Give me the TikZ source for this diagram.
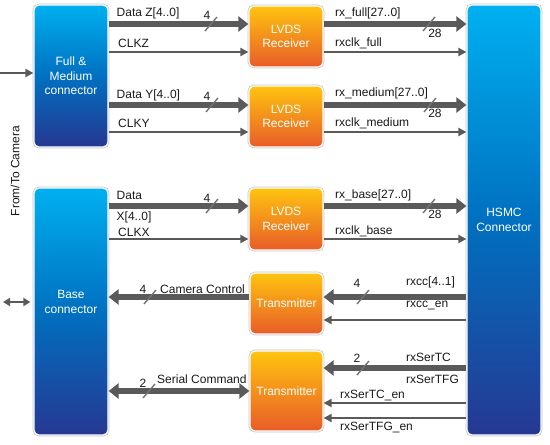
\documentclass[tikz,border=0pt]{standalone}
\usepackage{fontspec}
\setmainfont{Liberation Sans}
\usetikzlibrary{arrows.meta}
\definecolor{btop}{RGB}{0,176,240}
\definecolor{bmid}{RGB}{0,112,192}
\definecolor{bbot}{RGB}{38,56,146}
\definecolor{otop}{RGB}{255,196,15}
\definecolor{obot}{RGB}{232,92,40}
\definecolor{arrgray}{RGB}{90,90,90}
\definecolor{txtc}{RGB}{25,25,25}
\tikzset{
  blk/.style={rounded corners=5pt, draw=white, line width=1.2pt,
    preaction={draw=black!22, line width=2.8pt},
    minimum width=74pt, inner sep=0pt, text=white, align=center,
    font=\fontsize{12}{14.5}\selectfont},
  bluebox/.style={blk, top color=btop, bottom color=bbot, middle color=bmid},
  orbox/.style={blk, top color=otop, bottom color=obot},
  lbl/.style={inner sep=0pt, text=txtc, font=\fontsize{12}{14.5}\selectfont},
  thk/.style={draw=arrgray, line width=6pt, -{Triangle[length=10pt,width=15pt]}},
  thn/.style={draw=arrgray, line width=2pt, -{Triangle[length=8pt,width=8pt]}},
  slashln/.style={draw=arrgray!85, line width=1.4pt},
}
\begin{document}
\begin{tikzpicture}[x=1pt,y=-1pt]
\useasboundingbox (0,0) rectangle (550,445);
% boxes
\node[bluebox, minimum height=142pt] (fm) at (71,76) {Full \&\\Medium\\connector};
\node[bluebox, minimum height=247pt] (base) at (71,311.5) {};
\node[lbl, text=white, align=center] (baselbl) at (71,302) {Base\\connector};
\node[bluebox, minimum height=430pt] (hsmc) at (504,220) {HSMC\\Connector};
\node[orbox, minimum height=61pt] (lv1) at (286,36.5) {LVDS\\Receiver};
\node[orbox, minimum height=61pt] (lv2) at (286,116.5) {LVDS\\Receiver};
\node[orbox, minimum height=62pt] (lv3) at (286,219) {LVDS\\Receiver};
\node[orbox, minimum height=61pt, minimum width=73pt] (tx1) at (286.5,303.5) {Transmitter};
\node[orbox, minimum height=80pt, minimum width=73pt] (tx2) at (286.5,391) {Transmitter};
% left side
\node[lbl, rotate=90] (ftc) at (15,171) {From/To Camera};
\coordinate (inL) at (0,73);
\draw[thn] (inL) -- (fm.west |- inL);
\coordinate (camL) at (3,302);
\draw[draw=arrgray, line width=2pt, {Triangle[length=7pt,width=8pt]}-{Triangle[length=7pt,width=8pt]}, shorten >=3pt] (camL) -- (base.west |- camL);
% connector -> LVDS
\draw[thk] (fm.east |- 0,24) -- (lv1.west |- 0,24);
\draw[thn] (fm.east |- 0,52) -- (lv1.west |- 0,52);
\draw[thk] (fm.east |- 0,105) -- (lv2.west |- 0,105);
\draw[thn] (fm.east |- 0,132) -- (lv2.west |- 0,132);
\draw[thk] (base.east |- 0,206) -- (lv3.west |- 0,206);
\draw[thn] (base.east |- 0,239) -- (lv3.west |- 0,239);
% LVDS -> HSMC
\draw[thk] (lv1.east |- 0,24) -- (hsmc.west |- 0,24);
\draw[thn] (lv1.east |- 0,52) -- (hsmc.west |- 0,52);
\draw[thk] (lv2.east |- 0,105) -- (hsmc.west |- 0,105);
\draw[thn] (lv2.east |- 0,132) -- (hsmc.west |- 0,132);
\draw[thk] (lv3.east |- 0,206) -- (hsmc.west |- 0,206);
\draw[thn] (lv3.east |- 0,239) -- (hsmc.west |- 0,239);
% transmitters
\draw[thk] (tx1.west |- 0,297) -- (base.east |- 0,297);
\draw[thk] (hsmc.west |- 0,297) -- (tx1.east |- 0,297);
\draw[thn] (hsmc.west |- 0,320) -- (tx1.east |- 0,320);
\draw[draw=arrgray, line width=6pt, {Triangle[length=10pt,width=15pt]}-{Triangle[length=10pt,width=15pt]}] (base.east |- 0,391) -- (tx2.west |- 0,391);
\draw[thk] (hsmc.west |- 0,368) -- (tx2.east |- 0,368);
\draw[thn] (hsmc.west |- 0,403) -- (tx2.east |- 0,403);
\draw[thn] (hsmc.west |- 0,418) -- (tx2.east |- 0,418);
% slashes
\foreach \sx/\sy in {211/24, 212/105, 212/206, 429/24, 430/105, 429/206, 150/297, 363/297, 149/391, 363/368}
  \draw[slashln] (\sx-6,\sy+7) -- (\sx+6,\sy-7);
% left labels
\node[lbl, anchor=west] (tDZ) at (116.5,13) {Data Z[4..0]};
\node[lbl] (nDZ) at (207,15) {4};
\node[lbl, anchor=west] (tCZ) at (118,43) {CLKZ};
\node[lbl, anchor=west] (tDY) at (116.5,95) {Data Y[4..0]};
\node[lbl] (nDY) at (207,96) {4};
\node[lbl, anchor=west] (tCY) at (118,123) {CLKY};
\node[lbl, anchor=west] (tDX) at (116.5,195) {Data};
\node[lbl, anchor=west] (tDX2) at (116.5,217) {X[4..0]};
\node[lbl] (nDX) at (207,198) {4};
\node[lbl, anchor=west] (tCX) at (118,232) {CLKX};
\node[lbl] (nCC) at (143,289) {4};
\node[lbl, anchor=west] (tCC) at (160,289) {Camera Control};
\node[lbl] (nSC) at (143,383) {2};
\node[lbl, anchor=west] (tSC) at (157,379) {Serial Command};
% right labels
\node[lbl, anchor=west] (tRF) at (335,13) {rx\_full[27..0]};
\node[lbl] (nRF) at (435,33) {28};
\node[lbl, anchor=west] (tCF) at (335,43) {rxclk\_full};
\node[lbl, anchor=west] (tRM) at (335,93) {rx\_medium[27..0]};
\node[lbl] (nRM) at (435,113) {28};
\node[lbl, anchor=west] (tCM) at (335,123) {rxclk\_medium};
\node[lbl, anchor=west] (tRB) at (335,195) {rx\_base[27..0]};
\node[lbl] (nRB) at (435,214) {28};
\node[lbl, anchor=west] (tCB) at (335,231) {rxclk\_base};
\node[lbl] (nRC) at (357,283) {4};
\node[lbl, anchor=west] (tRC) at (406,282) {rxcc[4..1]};
\node[lbl, anchor=west] (tRCe) at (406,305) {rxcc\_en};
\node[lbl] (nST) at (357,358) {2};
\node[lbl, anchor=west] (tST) at (406,357) {rxSerTC};
\node[lbl, anchor=west] (tSF) at (406,379) {rxSerTFG};
\node[lbl, anchor=west] (tSTe) at (340,395) {rxSerTC\_en};
\node[lbl, anchor=west] (tSFe) at (340,427) {rxSerTFG\_en};
\end{tikzpicture}
\end{document}
